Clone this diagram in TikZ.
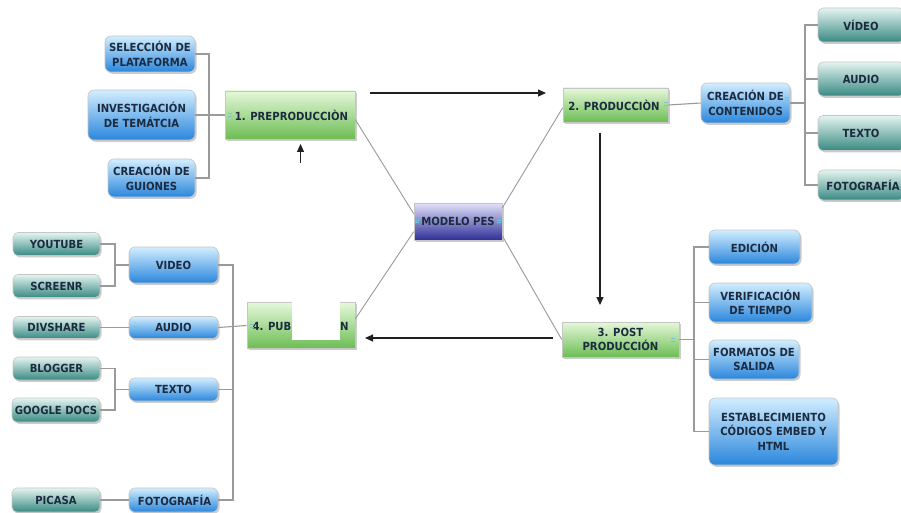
\documentclass[tikz,border=0pt]{standalone}
\usepackage{fontspec}
\setmainfont{DejaVu Sans Condensed}
\usetikzlibrary{shadows,arrows.meta,calc}
\definecolor{txt}{HTML}{1C2B3F}
\definecolor{bluetop}{HTML}{D2EEFF}
\definecolor{bluebot}{HTML}{2A86DC}
\definecolor{tealtop}{HTML}{E4F4F0}
\definecolor{tealbot}{HTML}{388A82}
\definecolor{greentop}{HTML}{E6F8DA}
\definecolor{greenbot}{HTML}{6CBD54}
\definecolor{pestop}{HTML}{E2E2FA}
\definecolor{pesbot}{HTML}{2E2E98}
\definecolor{conncol}{HTML}{9A9A9A}
\definecolor{arrcol}{HTML}{202020}
\definecolor{iconcol}{HTML}{6EC6E6}
\tikzset{
  boxbase/.style={inner sep=1pt, align=center, text=txt,
    font=\bfseries\fontsize{11.2}{14.5}\selectfont,
    draw=gray!45, line width=0.6pt,
    drop shadow={opacity=0.4, shadow xshift=1.5pt, shadow yshift=-1.8pt}},
  bluebox/.style={boxbase, rounded corners=6pt, top color=bluetop, bottom color=bluebot},
  tealbox/.style={boxbase, rounded corners=5pt, top color=tealtop, bottom color=tealbot},
  greenbox/.style={boxbase, top color=greentop, bottom color=greenbot},
  pesbox/.style={boxbase, top color=pestop, bottom color=pesbot},
  txtonly/.style={inner sep=0pt, text=txt, font=\bfseries\fontsize{11.2}{14.5}\selectfont},
  conn/.style={draw=conncol, line width=1.1pt},
  arr/.style={draw=arrcol, line width=1.1pt, -{Triangle[length=8pt,width=7pt]}},
  icon/.style={draw=iconcol, line width=0.8pt}
}
\begin{document}
\begin{tikzpicture}[x=1pt,y=-1pt]
\useasboundingbox (0,0) rectangle (901,513);
\fill[white] (0,0) rectangle (901,513);

% --- preproducción branch
\node[bluebox, minimum width=90pt, minimum height=36pt] (sel) at (150,54) {SELECCIÓN DE\\PLATAFORMA};
\node[bluebox, minimum width=107pt, minimum height=50pt] (inv) at (141.5,115) {INVESTIGACIÓN\\DE TEMÁTCIA};
\node[bluebox, minimum width=87pt, minimum height=38pt] (gui) at (151.5,178) {CREACIÓN DE\\GUIONES};
\node[greenbox, minimum width=130pt, minimum height=48pt] (pre) at (290,115) {\hspace*{3pt}1. PREPRODUCCIÒN};

% --- producción branch
\node[greenbox, minimum width=105pt, minimum height=34pt] (prod) at (615.5,105) {2. PRODUCCIÒN\hspace*{3pt}};
\node[bluebox, minimum width=89pt, minimum height=40pt] (cre) at (745.5,103) {CREACIÓN DE\\CONTENIDOS};
\node[tealbox, minimum width=86pt, minimum height=34pt] (cv) at (861,25) {VÍDEO};
\node[tealbox, minimum width=86pt, minimum height=34pt] (ca) at (861,79) {AUDIO};
\node[tealbox, minimum width=86pt, minimum height=35pt] (ct) at (861,133) {TEXTO};
\node[tealbox, minimum width=86pt, minimum height=30pt] (cf) at (861,185) {\hspace*{4pt}FOTOGRAFÍA};

% --- centre
\node[pesbox, minimum width=88pt, minimum height=37pt] (pes) at (458,221.5) {MODELO PES};

% --- post producción branch
\node[greenbox, minimum width=117pt, minimum height=35pt] (post) at (620.5,339.5) {3. POST\\PRODUCCIÓN};
\node[bluebox, minimum width=91pt, minimum height=34pt] (ed) at (754.5,247) {EDICIÓN};
\node[bluebox, minimum width=103pt, minimum height=39pt] (ver) at (760.5,302.5) {VERIFICACIÓN\\DE TIEMPO};
\node[bluebox, minimum width=90pt, minimum height=39pt] (form) at (754,359.5) {FORMATOS DE\\SALIDA};
\node[bluebox, minimum width=129pt, minimum height=67pt] (est) at (773.5,431.5) {ESTABLECIMIENTO\\CÓDIGOS EMBED Y\\HTML};

% --- publicación branch
\node[greenbox, minimum width=108pt, minimum height=46pt] (pub) at (301,325.5) {};
\node[txtonly, anchor=east] (publ) at (291.5,326) {4. PUB};
\fill[white] (292,302) rectangle (340,340);
\node[txtonly, anchor=west] (pubr) at (340,326) {N};

\node[bluebox, minimum width=89pt, minimum height=36pt] (pvid) at (173.5,265) {VIDEO};
\node[bluebox, minimum width=89pt, minimum height=22pt] (paud) at (173.5,327.5) {AUDIO};
\node[bluebox, minimum width=89pt, minimum height=23pt] (ptex) at (173.5,389.5) {TEXTO};
\node[bluebox, minimum width=89pt, minimum height=24pt] (pfot) at (173.5,500) {\hspace*{2pt}FOTOGRAFÍA};

\node[tealbox, minimum width=87pt, minimum height=23pt] (yt) at (56.5,244) {YOUTUBE};
\node[tealbox, minimum width=87pt, minimum height=23pt] (sc) at (56.5,286) {SCREENR};
\node[tealbox, minimum width=87pt, minimum height=22pt] (dv) at (56.5,327.5) {DIVSHARE};
\node[tealbox, minimum width=87pt, minimum height=23pt] (bl) at (56.5,368.5) {BLOGGER};
\node[tealbox, minimum width=88pt, minimum height=24pt] (gd) at (56,410) {GOOGLE DOCS};
\node[tealbox, minimum width=88pt, minimum height=24pt] (pi) at (56,500) {PICASA};

% --- connectors
\coordinate (b1) at (209,115);
\draw[conn] (sel.east) -| (b1);
\draw[conn] (gui.east) -| (b1);
\draw[conn] (inv.east) -- (pre.west);

\coordinate (b2) at (805,103);
\draw[conn] (prod.east) -- (cre.west);
\draw[conn] (cre.east) -- (b2);
\draw[conn] (b2) |- (cv.west);
\draw[conn] (b2) |- (ca.west);
\draw[conn] (b2) |- (ct.west);
\draw[conn] (b2) |- (cf.west);

\coordinate (b3) at (694,339.5);
\draw[conn] (post.east) -- (b3);
\draw[conn] (b3) |- (ed.west);
\draw[conn] (b3) |- (ver.west);
\draw[conn] (b3) |- (form.west);
\draw[conn] (b3) |- (est.west);

\coordinate (b4) at (233,326);
\draw[conn] (pvid.east) -| (b4);
\draw[conn] (ptex.east) -| (b4);
\draw[conn] (pfot.east) -| (b4);
\draw[conn] (paud.east) -- (pub.west);

\coordinate (b5) at (115,265);
\draw[conn] (yt.east) -| (b5);
\draw[conn] (sc.east) -| (b5);
\draw[conn] (b5) -- (pvid.west);
\coordinate (b6) at (115,389.5);
\draw[conn] (bl.east) -| (b6);
\draw[conn] (gd.east) -| (b6);
\draw[conn] (b6) -- (ptex.west);
\draw[conn] (dv.east) -- (paud.west);
\draw[conn] (pi.east) -- (pfot.west);

% --- lines from centre
\draw[conn, line width=0.9pt] (pre.-4) -- (pes.170);
\draw[conn, line width=0.9pt] (prod.183) -- (pes.17);
\draw[conn, line width=0.9pt] (post.west) -- (pes.-18);
\draw[conn, line width=0.9pt] (pub.7) -- (pes.193);

% --- arrows
\coordinate (a1s) at (370,93);  \coordinate (a1e) at (546,93);
\coordinate (a2s) at (600,133); \coordinate (a2e) at (600,305);
\coordinate (a3s) at (553,338); \coordinate (a3e) at (365,338);
\coordinate (a4s) at (300.5,163); \coordinate (a4e) at (300.5,144);
\draw[arr] (a1s) -- (a1e);
\draw[arr] (a2s) -- (a2e);
\draw[arr] (a3s) -- (a3e);
\draw[arr] (a4s) -- (a4e);

% --- small collapse marks
\foreach \p in {(230,115),(666,104),(787,99),(417,221.5),(499,221.5),(673,340),(252,326),(136,265),(136,327.5),(136,389.5),(132,500)}{
  \draw[icon] \p ++(-2,-1.3) -- ++(4,0) \p ++(-2,1.3) -- ++(4,0);
}
\end{tikzpicture}
\end{document}
